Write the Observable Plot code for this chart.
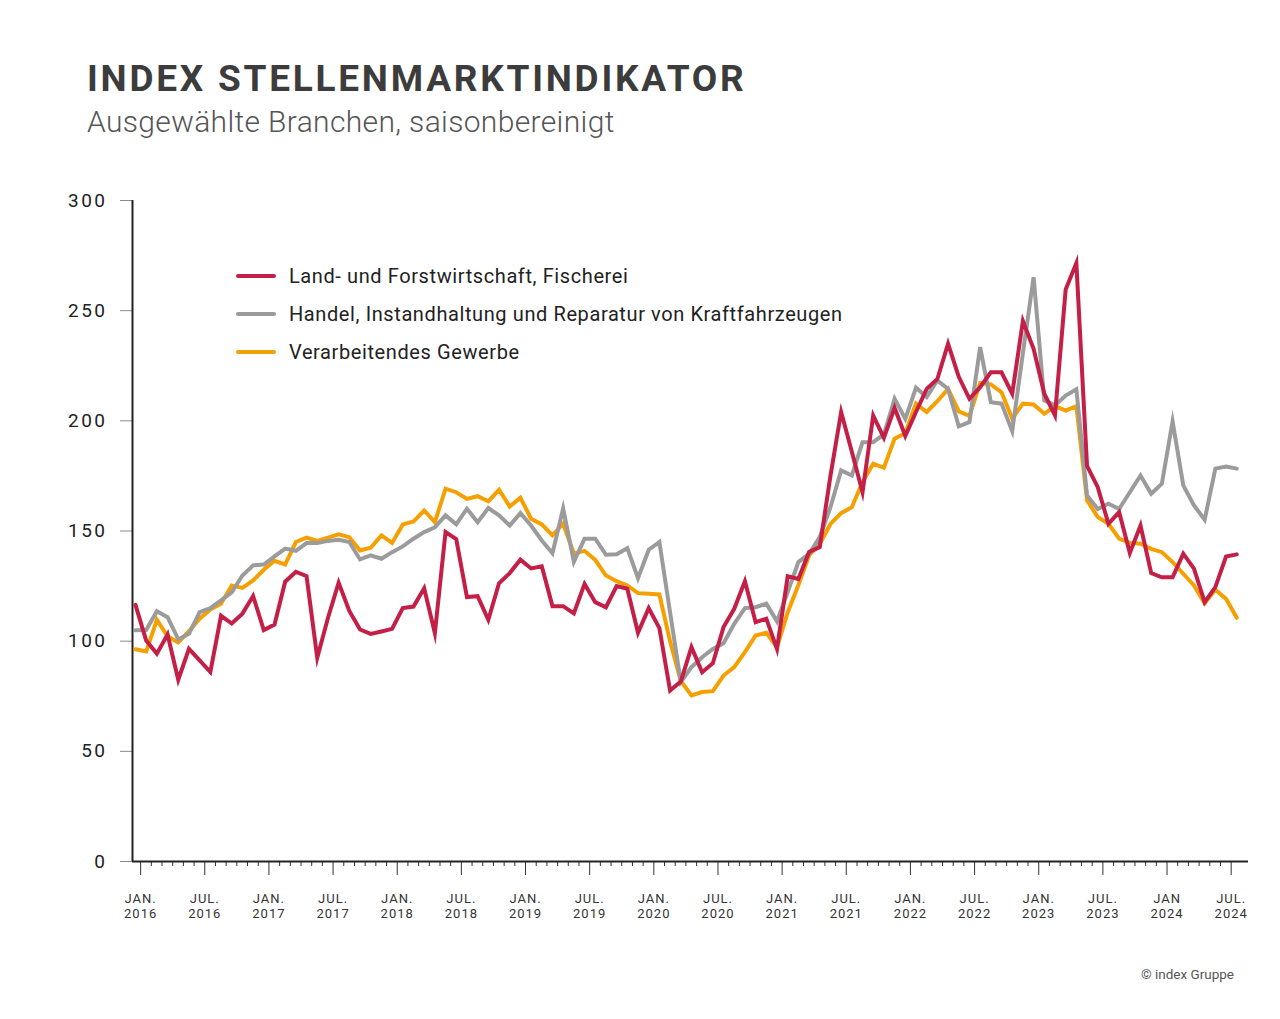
<!DOCTYPE html>
<html>
<head>
<meta charset="utf-8">
<script src="https://cdn.jsdelivr.net/npm/d3@7"></script>
<script src="https://cdn.jsdelivr.net/npm/@observablehq/plot@0.6"></script>
<style>
  body { margin: 0; background: #fff; font-family: Roboto, "Noto Sans", sans-serif; }
  #wrap { position: relative; width: 1280px; height: 1019px; overflow: hidden; background: #fff; }
  #title { position: absolute; left: 87px; top: 57px; font-size: 37px; font-weight: 700; letter-spacing: 2.75px; color: #3c3c3c; white-space: nowrap; }
  #sub { position: absolute; left: 87px; top: 104px; font-size: 30px; font-weight: 300; letter-spacing: 0.35px; color: #555; white-space: nowrap; }
  #chart { position: absolute; left: 0; top: 160px; }
  #legend { position: absolute; left: 236px; top: 257px; }
  .row { height: 38px; display: flex; align-items: center; font-size: 20px; letter-spacing: 0.6px; color: #222; white-space: nowrap; }
  .sw { width: 40px; height: 4.5px; border-radius: 3px; margin-right: 13px; }
  #caption { position: absolute; right: 46px; top: 966px; font-size: 13.5px; color: #555; }
  #chart g[aria-label="y-axis tick label"] { letter-spacing: 2.5px; }
  #chart g[aria-label="x-axis tick label"] { letter-spacing: 1px; }
</style>
</head>
<body>
<div id="wrap">
  <div id="title">INDEX STELLENMARKTINDIKATOR</div>
  <div id="sub">Ausgewählte Branchen, saisonbereinigt</div>
  <div id="chart"></div>
  <div id="legend"></div>
  <div id="caption">© index Gruppe</div>
</div>
<script>
// Series names and colours
const seriesNames = [
  "Land- und Forstwirtschaft, Fischerei",
  "Handel, Instandhaltung und Reparatur von Kraftfahrzeugen",
  "Verarbeitendes Gewerbe"
];
const seriesColors = ["#c41f47", "#9b9b9b", "#f5a000"];

// Monthly values, Jan 2016 – Aug 2024 (104 months)
const landForst = [
  116.5,100.3,94.3,103,82.5,96.5,91.3,86,111.5,108,112.5,120.5,
  105,107.5,127,131.5,129.5,92.5,110.5,126.5,113.7,105.3,103.3,104.4,
  105.6,115,115.7,124,103.6,149.5,146.3,120,120.4,109.7,126.3,130.9,
  137,133,134,115.9,115.9,112.6,126,117.7,115.4,125,123.8,103.8,
  115,105.9,77.6,81.7,97.3,85.9,90,106.4,114.7,127.2,108.6,110.2,
  96.5,129.5,128.2,140.5,142.7,175,204,186,167.6,202.4,192.3,205.9,
  193.1,204,214.5,219,235,220,210,215.3,222,222,212.3,245.3,
  232.7,212.3,202.5,259.6,271.6,179.5,169.9,153.3,158.6,140,152.5,130.9,
  129,129,139.7,132.9,117.7,124.5,138.4,139.4
];
const handelKfz = [
  104.9,105.1,113.6,110.9,100.8,103.3,113.2,115,118.5,122.2,129.8,134.4,
  134.8,138.5,142,141,144.5,144.5,145.5,146,145,137.1,138.9,137.4,
  140.4,143,146.5,149.5,151.7,157.1,153,160.1,154,160.4,157.1,152.5,
  158.1,152.5,145.7,139.9,160.2,136,146.5,146.5,139.2,139.4,142.2,128.6,
  141.5,145,113,81.4,88.2,92.7,96.5,99.1,107.9,115,115.4,117,
  109,122.3,135.9,139.6,147.2,160.8,177.5,175.2,190.3,190.3,193.8,210,
  200.9,215,210.8,218.3,214.5,197.5,199.4,233.5,208.5,207.8,195.3,230.8,
  265.2,209.3,207,211.5,214.3,166.1,160,162.4,160,167.6,175.2,166.9,
  171.5,199.7,170.7,161.6,155.1,178.3,179.3,178.3
];
const verarbeitend = [
  96.3,95.3,109.7,102.2,99.4,104.5,110.2,114.4,117,125.3,124.2,127.6,
  132.4,136.5,134.8,145,147,145.5,147,148.5,147.2,141.2,142.4,148,
  144.6,153,154.3,159.3,154,169.2,167.6,164.6,165.8,163.5,168.7,161.1,
  165.1,155.6,153,148,153.3,139.8,141,136.9,129.8,127.2,125.3,121.8,
  121.5,121.2,100,82,75.4,76.9,77.3,84.4,88.2,95,102.6,103.8,
  97.3,113,125.5,138.9,144.2,153.2,158.1,160.8,172.2,180.5,178.7,191.9,
  194.4,207.8,204,208.9,214.5,204.3,202.3,217.2,216.5,213,201,207.8,
  207.4,203.2,206.7,204.7,206.7,163.9,156.3,153.3,146.5,144.6,144.2,141.9,
  140.4,135.9,130.6,125.3,117.2,123.3,119.2,110.6
];

// Axis tick labels (every six months, Jan 2016 … Jul 2024)
const majorTickLabels = [
  "JAN.\n2016","JUL.\n2016","JAN.\n2017","JUL.\n2017","JAN.\n2018","JUL.\n2018",
  "JAN.\n2019","JUL.\n2019","JAN.\n2020","JUL.\n2020","JAN.\n2021","JUL.\n2021",
  "JAN.\n2022","JUL.\n2022","JAN.\n2023","JUL.\n2023","JAN\n2024","JUL.\n2024"
];
const yTicks = [0, 50, 100, 150, 200, 250, 300];

// Build table: x = month index since Jan 2016
const allSeries = [landForst, handelKfz, verarbeitend];
const rows = [];
[2, 1, 0].forEach(k => {
  allSeries[k].forEach((v, i) => rows.push({ month: i, value: v, series: seriesNames[k] }));
});

const tickOffset = 0.48; // ticks sit slightly right of the month points
const monthTicks = d3.range(0, 103).map(m => m + tickOffset);
const majorTicks = majorTickLabels.map((_, k) => k * 6 + tickOffset);
const minorTicks = monthTicks.filter((_, m) => m % 6 !== 0);
const xDomain = [-0.28, 104.1];

const chart = Plot.plot({
  width: 1280,
  height: 800,
  marginLeft: 132,
  marginRight: 32,
  marginTop: 40,
  marginBottom: 99,
  style: { fontFamily: "Roboto, 'Noto Sans', sans-serif", background: "transparent", overflow: "visible" },
  x: { domain: xDomain, label: null },
  y: { domain: [0, 300], label: null },
  color: { domain: seriesNames, range: seriesColors },
  marks: [
    Plot.axisY(yTicks, { tickSize: 12, tickFormat: () => "", stroke: "#8a8a8a", strokeWidth: 1, label: null }),
    Plot.axisY(yTicks, { tickSize: 0, tickPadding: 25, fontSize: 19, fill: "#222", label: null }),
    Plot.axisX(minorTicks, { tickSize: 5, tickFormat: () => "", stroke: "#333", strokeWidth: 1, label: null }),
    Plot.axisX(majorTicks, {
      tickSize: 14, tickPadding: 17, stroke: "#333", strokeWidth: 1,
      fontSize: 13, fill: "#333", lineHeight: 1.15, label: null,
      tickFormat: d => majorTickLabels[Math.round((d - tickOffset) / 6)]
    }),
    Plot.ruleY([0], { stroke: "#222", strokeWidth: 2 }),
    Plot.ruleX([xDomain[0]], { stroke: "#222", strokeWidth: 2 }),
    Plot.line(rows, {
      x: "month", y: "value", z: "series", stroke: "series",
      strokeWidth: 4, strokeLinejoin: "miter", strokeMiterlimit: 6, curve: "linear"
    })
  ]
});
document.getElementById("chart").appendChild(chart);

// Legend built from the series arrays
const legend = document.getElementById("legend");
seriesNames.forEach((name, k) => {
  const row = document.createElement("div");
  row.className = "row";
  const sw = document.createElement("div");
  sw.className = "sw";
  sw.style.background = seriesColors[k];
  const tx = document.createElement("span");
  tx.textContent = name;
  row.appendChild(sw);
  row.appendChild(tx);
  legend.appendChild(row);
});
</script>
</body>
</html>
